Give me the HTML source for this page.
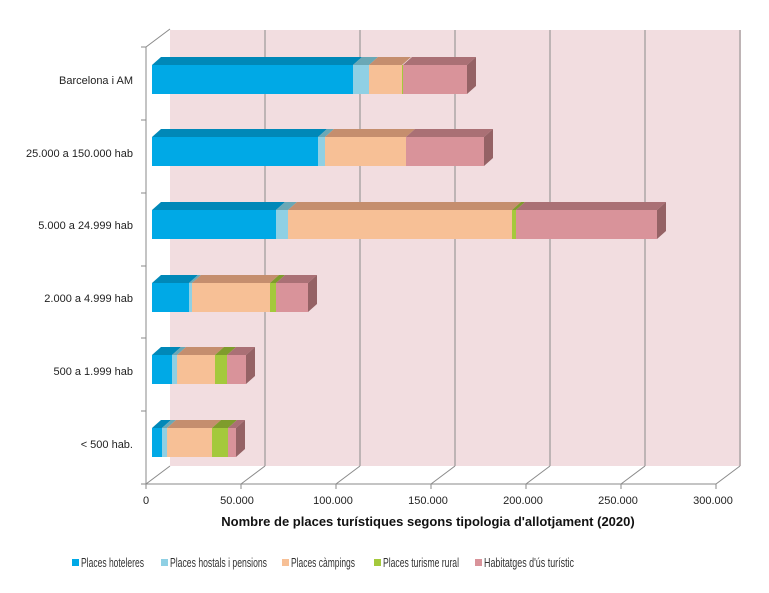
<!DOCTYPE html>
<html><head><style>body{margin:0;background:#fff}svg{display:block}text{font-family:"Liberation Sans",sans-serif}</style></head><body>
<svg width="769" height="593" viewBox="0 0 769 593" xmlns="http://www.w3.org/2000/svg">
<rect x="170" y="30" width="571" height="436" fill="#f2dde0"/>
<g stroke="#8a8a8a" stroke-width="1">
<line x1="265" y1="30" x2="265" y2="466"/><line x1="360" y1="30" x2="360" y2="466"/><line x1="455" y1="30" x2="455" y2="466"/><line x1="550" y1="30" x2="550" y2="466"/><line x1="645" y1="30" x2="645" y2="466"/><line x1="740" y1="30" x2="740" y2="466"/>
<line x1="146" y1="484" x2="170" y2="466"/><line x1="241" y1="484" x2="265" y2="466"/><line x1="336" y1="484" x2="360" y2="466"/><line x1="431" y1="484" x2="455" y2="466"/><line x1="526" y1="484" x2="550" y2="466"/><line x1="621" y1="484" x2="645" y2="466"/><line x1="716" y1="484" x2="740" y2="466"/>
<line x1="146" y1="47" x2="170" y2="29"/>
<line x1="146" y1="47" x2="146" y2="484"/><line x1="146" y1="484" x2="716" y2="484"/>
<line x1="141" y1="47" x2="146" y2="47"/><line x1="141" y1="120" x2="146" y2="120"/><line x1="141" y1="193" x2="146" y2="193"/><line x1="141" y1="266" x2="146" y2="266"/><line x1="141" y1="338" x2="146" y2="338"/><line x1="141" y1="411" x2="146" y2="411"/><line x1="141" y1="484" x2="146" y2="484"/>
<line x1="146" y1="484" x2="146" y2="489"/><line x1="241" y1="484" x2="241" y2="489"/><line x1="336" y1="484" x2="336" y2="489"/><line x1="431" y1="484" x2="431" y2="489"/><line x1="526" y1="484" x2="526" y2="489"/><line x1="621" y1="484" x2="621" y2="489"/><line x1="716" y1="484" x2="716" y2="489"/>
</g>
<g>
<rect x="152" y="65" width="201" height="29" fill="#00a9e6"/><polygon points="152,65 353,65 362,57 161,57" fill="#0088b8"/>
<rect x="353" y="65" width="16" height="29" fill="#8fd0e4"/><polygon points="353,65 369,65 378,57 362,57" fill="#6aa8b6"/>
<rect x="369" y="65" width="33" height="29" fill="#f7c096"/><polygon points="369,65 402,65 411,57 378,57" fill="#c58e6e"/>
<rect x="402" y="65" width="1" height="29" fill="#a4c93c"/>
<rect x="403" y="65" width="64" height="29" fill="#d9939a"/><polygon points="403,65 467,65 476,57 412,57" fill="#aa7075"/>
<polygon points="467,65 476,57 476,86 467,94" fill="#956265"/>
</g>
<g>
<rect x="152" y="137" width="166" height="29" fill="#00a9e6"/><polygon points="152,137 318,137 327,129 161,129" fill="#0088b8"/>
<rect x="318" y="137" width="7" height="29" fill="#8fd0e4"/><polygon points="318,137 325,137 334,129 327,129" fill="#6aa8b6"/>
<rect x="325" y="137" width="81" height="29" fill="#f7c096"/><polygon points="325,137 406,137 415,129 334,129" fill="#c58e6e"/>
<rect x="406" y="137" width="78" height="29" fill="#d9939a"/><polygon points="406,137 484,137 493,129 415,129" fill="#aa7075"/>
<polygon points="484,137 493,129 493,158 484,166" fill="#956265"/>
</g>
<g>
<rect x="152" y="210" width="124" height="29" fill="#00a9e6"/><polygon points="152,210 276,210 285,202 161,202" fill="#0088b8"/>
<rect x="276" y="210" width="12" height="29" fill="#8fd0e4"/><polygon points="276,210 288,210 297,202 285,202" fill="#6aa8b6"/>
<rect x="288" y="210" width="224" height="29" fill="#f7c096"/><polygon points="288,210 512,210 521,202 297,202" fill="#c58e6e"/>
<rect x="512" y="210" width="4" height="29" fill="#a4c93c"/><polygon points="512,210 516,210 525,202 521,202" fill="#7f9c2c"/>
<rect x="516" y="210" width="141" height="29" fill="#d9939a"/><polygon points="516,210 657,210 666,202 525,202" fill="#aa7075"/>
<polygon points="657,210 666,202 666,231 657,239" fill="#956265"/>
</g>
<g>
<rect x="152" y="283" width="37" height="29" fill="#00a9e6"/><polygon points="152,283 189,283 198,275 161,275" fill="#0088b8"/>
<rect x="189" y="283" width="3" height="29" fill="#8fd0e4"/><polygon points="189,283 192,283 201,275 198,275" fill="#6aa8b6"/>
<rect x="192" y="283" width="78" height="29" fill="#f7c096"/><polygon points="192,283 270,283 279,275 201,275" fill="#c58e6e"/>
<rect x="270" y="283" width="6" height="29" fill="#a4c93c"/><polygon points="270,283 276,283 285,275 279,275" fill="#7f9c2c"/>
<rect x="276" y="283" width="32" height="29" fill="#d9939a"/><polygon points="276,283 308,283 317,275 285,275" fill="#aa7075"/>
<polygon points="308,283 317,275 317,304 308,312" fill="#956265"/>
</g>
<g>
<rect x="152" y="355" width="20" height="29" fill="#00a9e6"/><polygon points="152,355 172,355 181,347 161,347" fill="#0088b8"/>
<rect x="172" y="355" width="5" height="29" fill="#8fd0e4"/><polygon points="172,355 177,355 186,347 181,347" fill="#6aa8b6"/>
<rect x="177" y="355" width="38" height="29" fill="#f7c096"/><polygon points="177,355 215,355 224,347 186,347" fill="#c58e6e"/>
<rect x="215" y="355" width="12" height="29" fill="#a4c93c"/><polygon points="215,355 227,355 236,347 224,347" fill="#7f9c2c"/>
<rect x="227" y="355" width="19" height="29" fill="#d9939a"/><polygon points="227,355 246,355 255,347 236,347" fill="#aa7075"/>
<polygon points="246,355 255,347 255,376 246,384" fill="#956265"/>
</g>
<g>
<rect x="152" y="428" width="10" height="29" fill="#00a9e6"/><polygon points="152,428 162,428 171,420 161,420" fill="#0088b8"/>
<rect x="162" y="428" width="5" height="29" fill="#8fd0e4"/><polygon points="162,428 167,428 176,420 171,420" fill="#6aa8b6"/>
<rect x="167" y="428" width="45" height="29" fill="#f7c096"/><polygon points="167,428 212,428 221,420 176,420" fill="#c58e6e"/>
<rect x="212" y="428" width="16" height="29" fill="#a4c93c"/><polygon points="212,428 228,428 237,420 221,420" fill="#7f9c2c"/>
<rect x="228" y="428" width="8" height="29" fill="#d9939a"/><polygon points="228,428 236,428 245,420 237,420" fill="#aa7075"/>
<polygon points="236,428 245,420 245,449 236,457" fill="#956265"/>
</g>
<g font-size="11" fill="#222" text-anchor="end">
<text x="133" y="84">Barcelona i AM</text><text x="133" y="157">25.000 a 150.000 hab</text><text x="133" y="229">5.000 a 24.999 hab</text><text x="133" y="302">2.000 a 4.999 hab</text><text x="133" y="375">500 a 1.999 hab</text><text x="133" y="448">&lt; 500 hab.</text>
</g>
<g font-size="11" fill="#222" text-anchor="middle">
<text x="146" y="504">0</text><text x="237" y="504">50.000</text><text x="333" y="504">100.000</text><text x="428" y="504">150.000</text><text x="523" y="504">200.000</text><text x="618" y="504">250.000</text><text x="713" y="504">300.000</text>
</g>
<text x="428" y="526" font-size="13" font-weight="bold" text-anchor="middle" fill="#111">Nombre de places turístiques segons tipologia d'allotjament (2020)</text>
<g font-size="12.5" fill="#333">
<rect x="72" y="559" width="7" height="7" fill="#00a9e6"/><text x="81" y="567" textLength="63" lengthAdjust="spacingAndGlyphs">Places hoteleres</text>
<rect x="161" y="559" width="7" height="7" fill="#8fd0e4"/><text x="170" y="567" textLength="97" lengthAdjust="spacingAndGlyphs">Places hostals i pensions</text>
<rect x="282" y="559" width="7" height="7" fill="#f7c096"/><text x="291" y="567" textLength="64" lengthAdjust="spacingAndGlyphs">Places càmpings</text>
<rect x="374" y="559" width="7" height="7" fill="#a4c93c"/><text x="383" y="567" textLength="76" lengthAdjust="spacingAndGlyphs">Places turisme rural</text>
<rect x="475" y="559" width="7" height="7" fill="#d9939a"/><text x="484" y="567" textLength="90" lengthAdjust="spacingAndGlyphs">Habitatges d'ús turístic</text>
</g>
</svg>
</body></html>
